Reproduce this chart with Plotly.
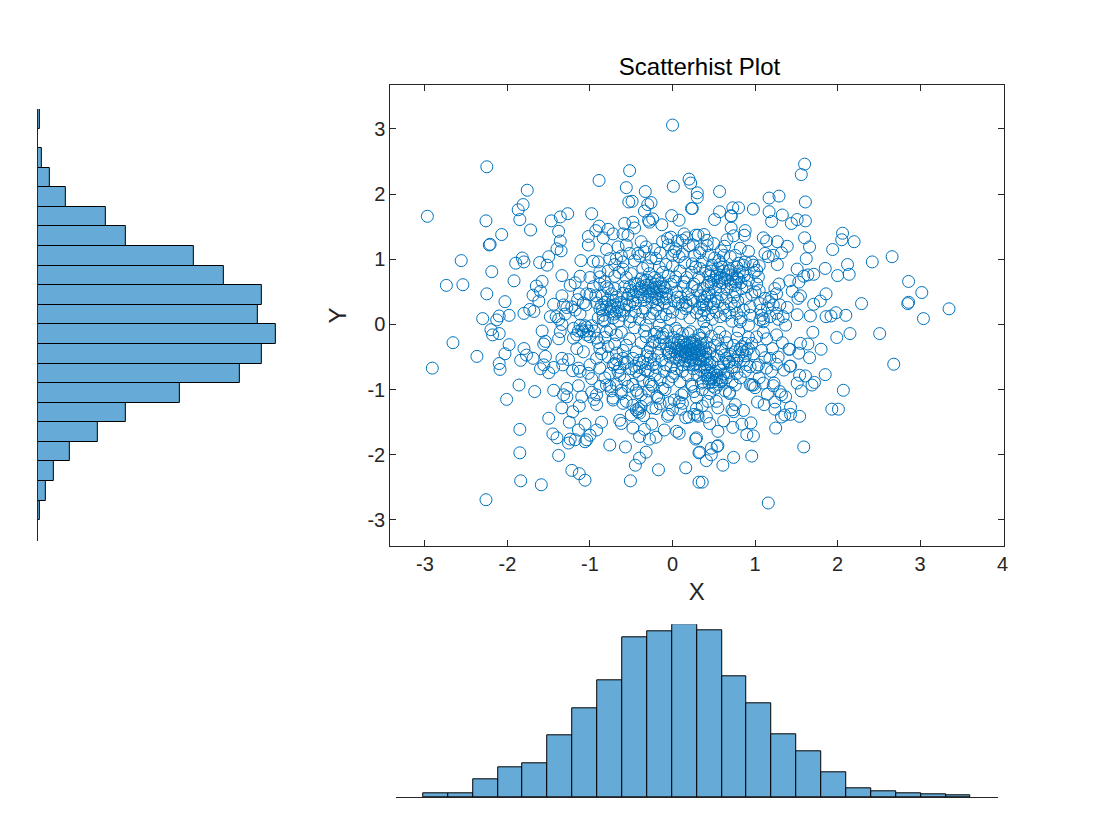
import plotly.graph_objects as go

W, H = 1120, 840
title_text = "Scatterhist Plot"
x_ticks = [-3, -2, -1, 0, 1, 2, 3, 4]
x_tick_labels = ["-3", "-2", "-1", "0", "1", "2", "3", "4"]
y_ticks = [-3, -2, -1, 0, 1, 2, 3]
y_tick_labels = ["-3", "-2", "-1", "0", "1", "2", "3"]

x_bin_start, x_bin_width = -3.0, 0.3
x_counts = [3, 3, 13, 21, 24, 44, 64, 84, 115, 119, 124, 120, 87, 67, 45, 33, 18, 6, 4, 3, 2, 1]
y_bin_start, y_bin_width = -3.0, 0.3
y_counts = [1, 4, 8, 16, 30, 44, 71, 101, 112, 119, 110, 112, 93, 78, 44, 34, 14, 6, 2, 0, 1]

upper_left = [(0.00,3.06),(-2.25,2.42),(-0.52,2.36),(-0.89,2.21),(-1.76,2.06),(-0.56,2.10),(0.01,2.12),(0.20,2.23),(0.22,2.17),(-0.33,2.04),(0.30,2.02),(0.30,1.95),(-1.81,1.84),(-1.87,1.76),(-2.97,1.66),(-2.26,1.59),(-1.85,1.61),(-1.72,1.45),(-2.07,1.38),(-2.22,1.22),(-2.21,1.23),(-1.47,1.59),(-1.36,1.65),(-1.27,1.70),(-0.98,1.70),(-0.53,1.88),(-0.49,1.89),(-0.26,1.87),(-0.30,1.84),(-0.34,1.74),(-0.24,1.62),(-0.29,1.60),(-0.28,1.57),(-0.01,1.67),(0.08,1.60),(-0.13,1.53),(0.24,1.78),(0.23,1.78),(-0.58,1.55),(-0.48,1.57),(-0.46,1.48),(-0.89,1.51),(-0.93,1.44),(-0.78,1.46),(-0.72,1.39),(-1.02,1.35),(-0.84,1.33),(-1.02,1.22),(-0.80,1.15),(-1.38,1.43),(-1.36,1.28),(-1.40,1.16),(-1.35,1.13),(-1.50,1.04),(-1.61,0.95),(-1.52,0.91),(-1.82,1.02),(-1.80,0.96),(-1.90,0.94),(-2.56,0.98),(-2.19,0.81),(-1.92,0.67),(-2.74,0.60),(-2.54,0.61),(-2.25,0.47),(-2.03,0.35),(-1.58,0.66),(-1.65,0.59),(-1.60,0.51),(-1.69,0.45),(-1.62,0.36),(-1.73,0.23),(-1.68,0.20),(-1.80,0.17),(-1.98,0.14),(-2.10,0.13),(-2.30,0.09),(-2.13,0.07),(-1.34,0.75),(-1.34,0.44),(-1.11,0.98),(-1.12,0.74),(-1.18,0.64),(-1.24,0.60),(-1.13,0.47),(-1.04,0.47),(-1.00,0.46),(-0.93,0.44),(-1.08,0.33),(-1.44,0.31),(-1.32,0.30),(-1.28,0.26),(-1.18,0.22),(-1.12,0.16),(-1.48,0.12),(-1.41,0.12),(-0.96,0.97),(-0.90,0.96),(-0.88,0.81),(-0.88,0.73),(-0.66,1.19),(-0.54,1.37),(-0.60,1.39),(-0.38,1.27),(-0.32,1.19),(-0.42,1.09),(-0.52,1.09),(-0.68,1.01),(-0.60,0.96),(-0.76,1.01),(-0.36,0.86),(-0.20,1.01),(-0.16,0.88),(-0.06,1.32),(-0.12,1.27),(-0.02,1.34),(0.14,1.39),(0.12,1.29),(0.28,1.37),(0.20,1.21),(0.04,1.16),(0.08,1.04),(0.24,0.93),(0.28,0.88),(0.00,1.06),(-0.70,0.74),(-0.80,0.58),(-0.58,0.58),(-0.32,0.60),(-0.24,0.55),(-0.12,0.50),(-0.08,0.40),(-0.20,0.40),(-0.48,0.35),(-0.52,0.30),(-0.76,0.24),(-0.68,0.19),(-0.84,0.14),(-0.60,0.14),(-0.36,0.19),(-0.24,0.17),(0.00,0.19),(0.16,0.24),(0.24,0.58),(0.04,0.73),(0.14,0.65)]

upper_right = [(1.60,2.46),(1.56,2.30),(0.57,2.04),(1.17,1.94),(1.29,1.97),(1.61,1.88),(0.98,1.77),(0.80,1.79),(0.73,1.79),(0.57,1.73),(0.71,1.67),(0.71,1.66),(0.51,1.61),(1.17,1.73),(1.33,1.68),(1.20,1.58),(1.51,1.61),(1.61,1.59),(1.44,1.55),(0.71,1.48),(0.88,1.44),(0.87,1.37),(0.74,1.36),(1.10,1.33),(1.14,1.28),(1.27,1.27),(1.60,1.33),(1.66,1.19),(1.39,1.20),(2.06,1.40),(2.05,1.30),(2.20,1.27),(1.94,1.15),(2.66,1.04),(2.42,0.96),(1.62,1.01),(1.32,1.10),(1.22,1.06),(1.16,1.04),(1.12,1.09),(1.27,0.92),(1.51,0.85),(1.85,0.86),(2.12,0.92),(2.00,0.75),(2.14,0.77),(1.71,0.77),(1.64,0.76),(1.59,0.74),(2.86,0.66),(3.02,0.49),(2.86,0.34),(2.85,0.32),(2.29,0.32),(3.35,0.24),(1.86,0.47),(1.79,0.36),(1.71,0.31),(1.55,0.44),(1.45,0.51),(1.53,0.65),(1.42,0.67),(1.29,0.62),(1.24,0.55),(1.26,0.47),(1.20,0.42),(1.17,0.35),(1.30,0.30),(1.39,0.26),(1.52,0.40),(1.51,0.15),(1.67,0.13),(1.86,0.12),(1.92,0.13),(1.98,0.18),(2.10,0.14),(3.04,0.09),(1.26,0.17),(1.08,0.14),(1.10,0.09),(0.94,0.27),(1.06,0.32),(1.00,0.50),(0.90,0.58),(1.04,0.73),(1.02,0.83),(0.98,0.91),(0.88,0.96),(0.82,1.17),(0.63,1.20),(0.59,1.13),(0.42,1.29),(0.42,1.21),(0.31,1.37),(0.35,1.16),(0.70,1.04),(0.58,0.93),(0.48,0.91),(0.78,0.88),(0.86,0.91),(0.78,0.73),(0.72,0.76),(0.44,0.65),(0.42,0.60),(0.33,0.86),(0.57,0.58),(0.76,0.50),(0.53,0.40),(0.71,0.32),(0.53,0.19),(0.78,0.17),(0.37,0.35),(0.35,0.14),(0.64,0.14)]

lower_left = [(-2.91,-0.67),(-2.66,-0.28),(-2.37,-0.49),(-2.20,-0.08),(-2.18,-0.16),(-2.10,-0.14),(-1.98,-0.31),(-2.03,-0.45),(-2.10,-0.60),(-2.09,-0.69),(-1.80,-0.37),(-1.84,-0.55),(-1.77,-0.47),(-1.69,-0.52),(-1.58,-0.10),(-1.54,-0.26),(-1.56,-0.30),(-1.38,-0.22),(-1.36,-0.11),(-1.34,0.00),(-1.54,-0.49),(-1.56,-0.62),(-1.60,-0.68),(-1.50,-0.74),(-1.44,-0.66),(-1.34,-0.52),(-1.26,-0.54),(-1.33,-0.62),(-1.21,-0.71),(-1.14,-0.67),(-1.12,-0.72),(-1.00,-0.62),(-1.02,-0.75),(-0.98,-0.83),(-0.80,-0.93),(-1.86,-0.93),(-2.01,-1.15),(-1.67,-1.03),(-1.44,-1.01),(-1.28,-0.98),(-1.14,-0.94),(-1.32,-1.08),(-1.28,-1.11),(-1.10,-1.11),(-0.98,-1.04),(-0.92,-1.08),(-0.92,-1.23),(-1.13,-1.25),(-1.34,-1.28),(-1.21,-1.34),(-1.50,-1.44),(-1.25,-1.50),(-1.06,-1.53),(-0.86,-1.50),(-1.14,-1.62),(-0.92,-1.62),(-1.00,-1.70),(-1.04,-1.77),(-1.06,-1.80),(-1.18,-1.77),(-1.24,-1.76),(-1.26,-1.82),(-1.85,-1.61),(-1.45,-1.68),(-1.40,-1.74),(-1.85,-1.97),(-1.38,-2.01),(-1.22,-2.24),(-1.13,-2.29),(-1.06,-2.39),(-1.84,-2.40),(-1.59,-2.46),(-2.26,-2.69),(-0.76,-1.85),(-0.57,-1.88),(-0.32,-1.96),(-0.40,-2.05),(-0.45,-2.16),(-0.51,-2.40),(-0.17,-2.23),(0.16,-2.20),(0.32,-2.42),(0.32,-1.97),(0.28,-1.76),(-0.64,-1.47),(-0.62,-1.52),(-0.48,-1.59),(-0.34,-1.61),(-0.40,-1.72),(-0.25,-1.53),(-0.28,-1.76),(-0.20,-1.73),(-0.10,-1.62),(0.05,-1.64),(0.08,-1.67),(0.16,-1.43),(0.26,-1.38),(0.30,-1.39),(-0.44,-1.31),(-0.42,-1.34),(-0.41,-1.29),(-0.40,-1.36),(-0.38,-1.26),(-0.50,-1.39),(-0.60,-1.21),(-0.20,-1.29),(-0.06,-1.41),(0.00,-1.31),(0.02,-1.16),(0.12,-1.21),(0.08,-1.19),(0.11,-1.08),(-0.17,-1.13),(-0.32,-1.16),(-0.38,-1.08),(-0.72,-1.13),(-0.72,-1.16),(-0.76,-0.95),(-0.62,-1.01),(-0.54,-0.95),(-0.44,-1.01),(-0.24,-0.95),(-0.12,-0.98),(0.24,-0.95),(0.26,-1.03),(0.02,-0.75),(0.00,-0.80),(-0.28,-0.88),(-0.40,-0.78),(-0.64,-0.78),(-0.76,-0.75),(-0.88,-0.67),(-0.92,-0.52),(-0.60,-0.52),(-0.58,-0.60),(-0.48,-0.52),(-0.30,-0.60),(-0.30,-0.42),(-0.24,-0.27),(-0.32,-0.19),(-0.56,-0.32),(-0.68,-0.44),(-0.78,-0.34),(-0.88,-0.37),(-1.16,-0.37),(-1.20,-0.21),(-1.04,-0.04),(-1.08,-0.11),(-1.00,-0.19),(-1.20,-0.06),(-0.92,-0.21),(-1.12,-0.01),(-1.04,-0.16),(-1.16,-0.16),(-0.80,-0.11),(-0.84,0.07),(-0.68,-0.16),(-0.52,0.04),(-0.32,-0.01),(-0.16,-0.01),(0.04,-0.06),(0.12,-0.14),(0.08,-0.32),(0.16,-0.42),(0.22,-0.52),(0.20,-0.62),(0.12,-0.47),(0.28,-0.37),(0.30,-0.47),(0.24,-0.27),(0.32,-0.16),(0.04,-0.52),(0.12,-0.72),(-0.04,-0.42),(-0.08,-0.62),(0.22,-0.11)]

lower_right = [(2.51,-0.14),(2.68,-0.61),(2.15,-0.14),(1.99,-0.20),(1.80,-0.38),(1.70,-0.12),(1.66,-0.51),(1.64,-0.30),(1.55,-0.29),(1.53,-0.44),(1.42,-0.38),(1.41,-0.38),(1.43,-0.64),(1.42,-0.64),(1.26,-0.61),(1.85,-0.77),(2.07,-1.01),(1.93,-1.30),(2.01,-1.30),(1.72,-0.89),(1.69,-0.93),(1.61,-0.79),(1.54,-0.78),(1.51,-0.90),(1.56,-1.02),(1.37,-0.01),(1.33,-0.28),(1.21,-0.37),(1.26,-0.16),(1.14,-0.22),(1.02,-0.19),(0.96,-0.29),(0.92,-0.37),(1.12,-0.51),(1.04,-0.62),(1.14,-0.67),(1.02,-0.66),(0.94,-0.65),(0.90,-0.62),(0.78,-0.75),(1.23,-0.90),(1.22,-0.94),(1.10,-0.90),(0.98,-0.93),(0.94,-0.92),(0.96,-0.93),(1.00,-0.97),(1.15,-1.07),(1.30,-1.03),(1.32,-1.08),(1.37,-1.11),(1.03,-1.19),(1.11,-1.23),(1.24,-1.19),(1.24,-1.30),(1.43,-1.27),(1.43,-1.38),(1.36,-1.39),(1.32,-1.42),(1.54,-1.41),(1.25,-1.59),(0.95,-1.51),(0.84,-1.53),(0.73,-1.58),(0.90,-1.69),(0.98,-1.71),(1.59,-1.88),(1.16,-2.74),(0.96,-2.02),(0.74,-2.04),(0.61,-2.16),(0.55,-1.86),(0.54,-1.87),(0.47,-1.90),(0.55,-1.64),(0.41,-2.09),(0.47,-2.00),(0.33,-1.96),(0.36,-2.42),(0.29,-1.74),(0.86,-1.32),(0.76,-1.23),(0.72,-1.31),(0.74,-1.34),(0.55,-1.28),(0.53,-1.18),(0.41,-1.42),(0.31,-1.41),(0.29,-1.29),(0.45,-1.06),(0.69,-1.06),(0.69,-1.04),(0.76,-0.93),(0.59,-0.88),(0.41,-0.62),(0.45,-0.60),(0.39,-0.78),(0.43,-0.83),(0.35,-0.90),(0.53,-0.85),(0.49,-0.95),(0.65,-0.52),(0.69,-0.57),(0.75,-0.65),(0.63,-0.47),(0.59,-0.37),(0.55,-0.24),(0.45,-0.37),(0.35,-0.21),(0.33,-0.44),(0.41,-0.06),(0.64,-0.19),(0.78,-0.21),(0.84,-0.34),(0.88,-0.29),(0.82,0.04),(0.92,-0.01),(1.06,0.07),(1.10,0.04)]

core_upper_left = [(-0.88,0.62),(-0.82,0.66),(-0.78,0.55),(-0.74,0.47),(-0.70,0.55),(-0.65,0.80),(-0.60,0.85),(-0.56,0.72),(-0.50,0.78),(-0.46,0.63),(-0.44,0.50),(-0.42,0.42),(-0.40,0.55),(-0.38,0.70),(-0.36,0.46),(-0.34,0.38),(-0.31,0.68),(-0.30,0.90),(-0.28,0.78),(-0.27,0.48),(-0.25,0.34),(-0.22,0.72),(-0.21,0.62),(-0.19,0.47),(-0.18,0.30),(-0.16,0.58),(-0.15,0.52),(-0.13,0.42),(-0.12,0.80),(-0.10,0.33),(-0.09,0.56),(-0.07,0.47),(-0.05,0.75),(-0.04,0.25),(-0.02,0.62),(-0.45,0.32),(-0.55,0.40),(-0.62,0.34),(-0.70,0.30),(-0.75,0.20),(-0.80,0.27),(-0.85,0.22),(-0.90,0.10),(-0.82,0.05),(-0.72,0.10),(-0.65,0.05),(-0.58,0.22),(-0.50,0.12),(-0.45,0.20),(-0.40,0.08),(-0.33,0.25),(-0.28,0.10),(-0.20,0.22),(-0.14,0.12),(-0.08,0.15),(-0.03,0.08),(-0.92,0.33),(-0.96,0.58),(-0.85,0.44),(-0.78,0.38),(-0.68,0.42),(-0.60,0.48),(-0.52,0.58),(-0.46,0.98),(-0.40,1.05),(-0.34,1.12),(-0.26,1.02),(-0.22,1.15),(-0.15,1.10),(-0.08,0.92),(-0.05,1.22),(0.00,0.90),(-0.62,1.05),(-0.56,1.22),(-0.70,0.92),(-0.78,0.82),(-1.00,0.72),(-1.05,0.30),(-1.15,0.38),(-1.22,0.27),(-1.30,0.16),(-1.38,0.08)]

core_upper_right = [(0.02,0.66),(0.05,0.50),(0.07,0.32),(0.09,0.82),(0.10,0.42),(0.11,0.17),(0.13,0.58),(0.15,0.95),(0.17,0.72),(0.18,0.28),(0.19,0.47),(0.21,0.10),(0.23,0.80),(0.25,0.36),(0.26,0.62),(0.27,1.06),(0.29,0.18),(0.30,0.52),(0.32,0.72),(0.33,0.25),(0.36,0.96),(0.37,0.55),(0.38,0.04),(0.39,0.42),(0.40,0.82),(0.41,0.30),(0.43,0.15),(0.44,0.48),(0.46,0.74),(0.47,0.62),(0.48,0.08),(0.49,0.26),(0.51,1.02),(0.52,0.54),(0.54,0.78),(0.55,0.35),(0.56,0.66),(0.58,0.12),(0.59,0.46),(0.60,0.88),(0.62,0.25),(0.63,0.70),(0.65,0.40),(0.66,0.54),(0.68,0.82),(0.69,0.18),(0.71,0.62),(0.72,0.05),(0.74,0.42),(0.75,0.28),(0.77,0.65),(0.79,0.36),(0.81,0.82),(0.83,0.10),(0.84,0.55),(0.86,0.22),(0.87,0.75),(0.89,0.40),(0.92,0.68),(0.94,0.14),(0.96,0.46),(0.99,0.80),(1.02,0.62),(1.05,0.52),(1.07,0.22),(1.12,0.40),(1.15,0.25),(1.18,0.12),(1.22,0.30),(1.28,0.08),(1.34,0.12),(0.02,1.12),(0.06,1.28),(0.12,1.08),(0.17,1.33),(0.25,1.22),(0.33,1.10),(0.38,1.38),(0.44,1.06),(0.50,1.24),(0.56,0.98),(0.62,1.06),(0.66,1.30),(0.76,1.06),(0.80,0.94),(0.92,1.12),(0.96,0.96),(1.05,0.90)]

core_lower_left = [(-0.95,-0.10),(-0.90,-0.28),(-0.86,-0.45),(-0.82,-0.20),(-0.78,-0.50),(-0.75,-0.08),(-0.72,-0.62),(-0.70,-0.30),(-0.66,-0.72),(-0.62,-0.12),(-0.60,-0.40),(-0.58,-0.85),(-0.55,-0.58),(-0.52,-0.22),(-0.50,-0.68),(-0.48,-0.92),(-0.46,-0.05),(-0.44,-0.42),(-0.42,-1.05),(-0.40,-0.55),(-0.38,-0.28),(-0.36,-0.86),(-0.34,-0.10),(-0.33,-0.70),(-0.31,-0.48),(-0.29,-1.02),(-0.27,-0.36),(-0.26,-0.92),(-0.24,-0.62),(-0.22,-0.15),(-0.21,-0.78),(-0.19,-1.10),(-0.18,-0.44),(-0.16,-0.30),(-0.15,-0.85),(-0.13,-0.55),(-0.11,-0.20),(-0.10,-0.72),(-0.09,-1.00),(-0.07,-0.38),(-0.06,-0.10),(-0.05,-0.88),(-0.03,-0.50),(-0.02,-0.65),(-0.01,-0.28),(-0.68,-0.92),(-0.74,-1.02),(-0.82,-0.82),(-0.88,-0.95),(-0.95,-1.15),(-1.08,-0.42),(-0.62,-1.06),(-0.56,-1.18),(-0.48,-1.24),(-0.25,-1.28),(-0.15,-1.22),(-0.04,-1.20),(-0.05,-1.38),(-0.35,-1.40)]

core_lower_right = [(0.01,-0.20),(0.03,-0.42),(0.05,-0.68),(0.06,-0.10),(0.08,-0.55),(0.09,-0.88),(0.10,-0.26),(0.11,-0.38),(0.13,-0.62),(0.14,-1.05),(0.15,-0.48),(0.17,-0.30),(0.18,-0.78),(0.19,-0.14),(0.21,-0.56),(0.22,-0.38),(0.23,-0.92),(0.25,-0.68),(0.26,-0.24),(0.27,-0.45),(0.28,-0.60),(0.29,-1.12),(0.30,-0.78),(0.31,-0.33),(0.33,-0.55),(0.34,-0.70),(0.35,-0.40),(0.36,-1.00),(0.37,-0.88),(0.38,-0.12),(0.40,-0.50),(0.41,-0.28),(0.42,-0.70),(0.43,-1.18),(0.45,-0.44),(0.46,-0.84),(0.47,-0.18),(0.48,-0.58),(0.50,-0.75),(0.51,-0.32),(0.52,-0.98),(0.54,-0.48),(0.56,-0.66),(0.57,-0.12),(0.58,-0.82),(0.60,-0.40),(0.62,-0.60),(0.64,-1.02),(0.66,-0.28),(0.67,-0.74),(0.70,-0.46),(0.72,-0.88),(0.74,-0.32),(0.78,-0.55),(0.80,-0.10),(0.82,-0.82),(0.85,-0.42),(0.88,-0.72),(0.92,-0.20),(0.98,-0.45),(1.05,-0.82),(1.08,-0.40),(1.10,-0.12),(1.18,-0.52),(1.20,-0.72),(1.28,-0.50),(1.35,-0.70),(0.10,-1.30),(0.20,-1.42),(0.36,-1.25),(0.45,-1.52),(0.62,-1.48)]

dense_clumps = [(-0.42,0.62),(-0.39,0.50),(-0.37,0.58),(-0.35,0.66),(-0.33,0.52),(-0.30,0.44),(-0.29,0.56),(-0.26,0.64),(-0.25,0.42),(-0.23,0.50),(-0.20,0.57),(-0.18,0.68),(-0.17,0.38),(-0.14,0.64),(-0.11,0.58),(-0.48,0.44),(-0.50,0.52),(-0.53,0.46),(-0.56,0.30),(-0.66,0.26),(-0.72,0.36),(-0.74,0.28),(-0.82,0.34),(-0.86,0.30),(-0.88,0.24),(-0.64,0.20),(-0.70,0.16),
(0.44,0.76),(0.47,0.82),(0.50,0.68),(0.53,0.74),(0.55,0.86),(0.58,0.72),(0.60,0.64),(0.62,0.82),(0.65,0.76),(0.67,0.68),(0.70,0.84),(0.73,0.70),(0.76,0.60),(0.80,0.70),(0.83,0.64),(0.85,0.80),(0.34,0.44),(0.36,0.30),(0.38,0.22),(0.42,0.44),(0.46,0.36),(0.50,0.32),(0.22,0.38),(0.16,0.34),(0.12,0.30),(0.06,0.42),(0.02,0.36),
(0.02,-0.30),(0.04,-0.36),(0.06,-0.46),(0.07,-0.24),(0.09,-0.40),(0.10,-0.50),(0.12,-0.35),(0.13,-0.42),(0.14,-0.27),(0.15,-0.56),(0.16,-0.36),(0.17,-0.44),(0.18,-0.50),(0.19,-0.34),(0.20,-0.40),(0.21,-0.28),(0.23,-0.46),(0.24,-0.38),(0.25,-0.54),(0.26,-0.34),(0.27,-0.62),(0.28,-0.30),(0.29,-0.42),(0.31,-0.52),(0.32,-0.40),(0.33,-0.64),(0.34,-0.30),(0.36,-0.48),(0.37,-0.56),(0.38,-0.36),(0.39,-0.66),(0.40,-0.42),(0.42,-0.54),(-0.02,-0.36),(-0.05,-0.44),(-0.08,-0.30),(-0.12,-0.14),(-0.15,-0.20),(-0.19,-0.12),(-0.22,-0.26),
(0.42,-0.78),(0.44,-0.90),(0.46,-0.74),(0.48,-0.82),(0.50,-0.88),(0.52,-0.72),(0.54,-0.78),(0.56,-0.92),(0.58,-0.70),(0.60,-0.86),(0.62,-0.76),(0.65,-0.82),(0.68,-0.58),(0.72,-0.66),(0.74,-0.54),(0.76,-0.42),(0.80,-0.48),(0.82,-0.38),(0.86,-0.56),(0.88,-0.48),(0.90,-0.40),
(-1.10,-0.08),(-1.06,-0.02),(-1.02,-0.10),(-0.98,-0.02),(-1.14,-0.10),(-0.70,-0.60),(-0.68,-0.54),(-0.64,-0.66),(-0.46,-0.64),(-0.44,-0.72),(-0.40,-0.66),(-0.36,-0.58),(-0.30,-0.72),(-0.27,-0.50),(-0.22,-0.54),(-0.20,-0.66)]

points = (upper_left + upper_right + lower_left + lower_right + core_upper_left
          + core_upper_right + core_lower_left + core_lower_right + dense_clumps)
scatter_x = [p[0] for p in points]
scatter_y = [p[1] for p in points]

x_centers = [x_bin_start + x_bin_width * (i + 0.5) for i in range(len(x_counts))]
y_centers = [y_bin_start + y_bin_width * (i + 0.5) for i in range(len(y_counts))]

def hdom(a, b):
    return [a / W, b / W]
def vdom(top, bottom):
    return [1 - bottom / H, 1 - top / H]

BLUE = "#0072BD"
FILL = "#66AAD7"
DARK = "#262626"
FONT = "Liberation Sans"

fig = go.Figure()
fig.add_trace(go.Scatter(x=scatter_x, y=scatter_y, mode="markers", showlegend=False,
    marker=dict(symbol="circle-open", size=12, color=BLUE, line=dict(width=1, color=BLUE)),
    xaxis="x", yaxis="y"))
fig.add_trace(go.Bar(x=x_centers, y=x_counts, width=x_bin_width, showlegend=False,
    marker=dict(color=FILL, line=dict(color="black", width=1)), xaxis="x2", yaxis="y2"))
fig.add_trace(go.Bar(y=y_centers, x=y_counts, width=y_bin_width, orientation="h", showlegend=False,
    marker=dict(color=FILL, line=dict(color="black", width=1)), xaxis="x3", yaxis="y3"))

fig.update_layout(
    width=W, height=H, margin=dict(l=0, r=0, t=0, b=0), autosize=False,
    paper_bgcolor="white", plot_bgcolor="white", bargap=0,
    font=dict(family=FONT, color=DARK),
    title=dict(text=title_text, x=699.5 / W, xanchor="center", y=1 - 67 / H, yanchor="middle",
               font=dict(size=24, color="black", family=FONT)),
    xaxis=dict(domain=hdom(392, 1008), range=[-3.42, 4.01], anchor="y", showgrid=False, zeroline=False,
               showline=True, linecolor=DARK, linewidth=1, mirror="ticks", ticks="inside", ticklen=6,
               tickcolor=DARK, tickwidth=1, tickvals=x_ticks, ticktext=x_tick_labels,
               tickfont=dict(size=20, color=DARK),
               title=dict(text="X", font=dict(size=24, color=DARK), standoff=9)),
    yaxis=dict(domain=vdom(85, 546), range=[-3.40, 3.675], anchor="x", showgrid=False, zeroline=False,
               showline=True, linecolor=DARK, linewidth=1, mirror="ticks", ticks="inside", ticklen=6,
               tickcolor=DARK, tickwidth=1, tickvals=y_ticks, ticktext=y_tick_labels,
               tickfont=dict(size=20, color=DARK),
               title=dict(text="Y", font=dict(size=24, color=DARK), standoff=14)),
    xaxis2=dict(domain=hdom(398, 1002), range=[-3.324, 3.924], anchor="y2", showgrid=False, zeroline=False,
                showline=True, linecolor=DARK, linewidth=1, ticks="", showticklabels=False),
    yaxis2=dict(domain=vdom(624.3, 797), range=[0, 124], anchor="x2", visible=False),
    xaxis3=dict(domain=hdom(38, 277.5), range=[0, 119], anchor="y3", visible=False),
    yaxis3=dict(domain=vdom(109, 541), range=[-3.32, 3.3], anchor="x3", showgrid=False, zeroline=False,
                showline=True, linecolor=DARK, linewidth=1, ticks="", showticklabels=False),
)

page_css = ("document.documentElement.style.overflow='hidden';"
            "document.body.style.margin='0';"
            "document.body.style.overflow='hidden';")
fig.write_html("out.html", config={"displayModeBar": False}, post_script=page_css)
